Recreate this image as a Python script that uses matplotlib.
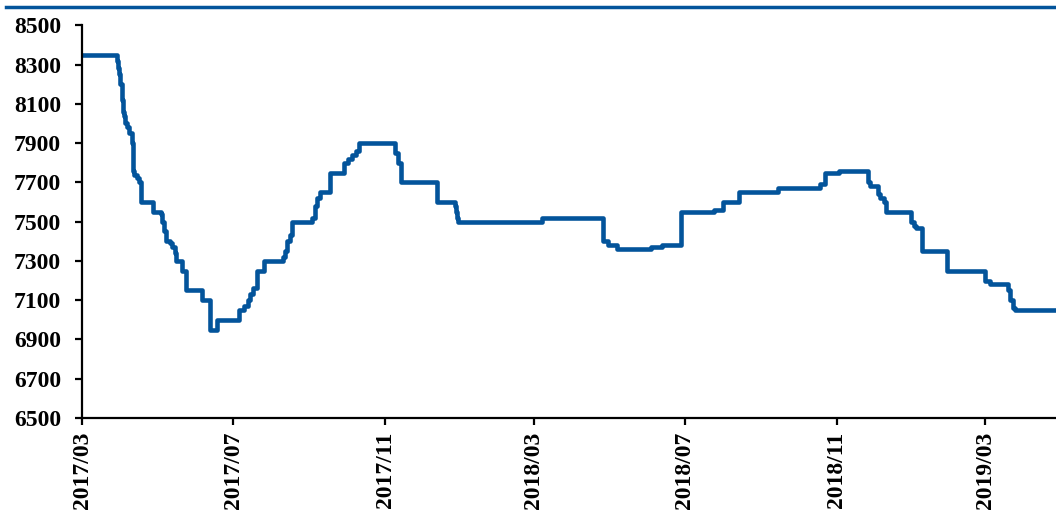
import pandas as pd
import matplotlib.pyplot as plt
import matplotlib.dates as mdates
from matplotlib.lines import Line2D

# change points of the price series (value holds until the next date)
dates = ['2017-03-01', '2017-03-29', '2017-03-30', '2017-03-31', '2017-04-01',
         '2017-04-02', '2017-04-03', '2017-04-04', '2017-04-05', '2017-04-06',
         '2017-04-08', '2017-04-10', '2017-04-11', '2017-04-12', '2017-04-14',
         '2017-04-16', '2017-04-18', '2017-04-27', '2017-05-04', '2017-05-05',
         '2017-05-06', '2017-05-08', '2017-05-11', '2017-05-13', '2017-05-15',
         '2017-05-16', '2017-05-21', '2017-05-24', '2017-06-06', '2017-06-12',
         '2017-06-18', '2017-07-06', '2017-07-10', '2017-07-13', '2017-07-15',
         '2017-07-17', '2017-07-20', '2017-07-26', '2017-08-10', '2017-08-12',
         '2017-08-14', '2017-08-16', '2017-08-18', '2017-09-03', '2017-09-05',
         '2017-09-07', '2017-09-09', '2017-09-17', '2017-09-29', '2017-10-02',
         '2017-10-05', '2017-10-08', '2017-10-11', '2017-11-09', '2017-11-11',
         '2017-11-14', '2017-12-13', '2017-12-27', '2017-12-28', '2017-12-29',
         '2017-12-30', '2018-03-08',
         '2018-04-26', '2018-04-30', '2018-05-07', '2018-06-04', '2018-06-13',
         '2018-06-28', '2018-07-25', '2018-08-01', '2018-08-14', '2018-09-14',
         '2018-10-18', '2018-10-22', '2018-11-03', '2018-11-26', '2018-11-28',
         '2018-12-04', '2018-12-06', '2018-12-09', '2018-12-11', '2018-12-31',
         '2019-01-02', '2019-01-04', '2019-01-09', '2019-01-29', '2019-03-01',
         '2019-03-05', '2019-03-19', '2019-03-21', '2019-03-23', '2019-03-25',
         '2019-04-27']
values = [8350, 8320, 8280, 8250, 8200,
          8120, 8060, 8040, 8000, 7980,
          7950, 7900, 7760, 7740, 7720,
          7700, 7600, 7550, 7540, 7500,
          7450, 7400, 7390, 7370, 7340,
          7300, 7250, 7150, 7100, 6950,
          7000, 7050, 7070, 7100, 7130,
          7160, 7250, 7300, 7320, 7350,
          7400, 7430, 7500, 7520, 7580,
          7620, 7650, 7750, 7800, 7820,
          7840, 7860, 7900, 7850, 7800,
          7700, 7600, 7580, 7550, 7520,
          7500, 7520,
          7400, 7380, 7360, 7370, 7380,
          7550, 7560, 7600, 7650, 7670,
          7690, 7750, 7760, 7700, 7680,
          7640, 7620, 7600, 7550, 7500,
          7480, 7470, 7350, 7250, 7200,
          7180, 7150, 7100, 7060, 7050,
          7050]

tick_dates = ['2017-03-01', '2017-07-01', '2017-11-01', '2018-03-01',
              '2018-07-01', '2018-11-01', '2019-03-01']
y_ticks = list(range(6500, 8501, 200))

blue = '#03549b'
plt.rcParams['font.family'] = ['Liberation Serif', 'DejaVu Serif']
plt.rcParams['font.weight'] = 'bold'

x = pd.to_datetime(dates)
fig = plt.figure(figsize=(10.56, 5.12), dpi=100)
ax = fig.add_axes([0.0777, 0.1836, 0.9223, 0.767])
ax.step(x, values, where='post', color=blue, linewidth=3.3,
        solid_joinstyle='round', solid_capstyle='round')

ax.set_xlim(x[0], x[-1])
ax.set_ylim(6500, 8500)
ax.set_yticks(y_ticks)
ax.set_xticks(pd.to_datetime(tick_dates))
ax.xaxis.set_major_formatter(mdates.DateFormatter('%Y/%m'))
plt.setp(ax.get_xticklabels(), rotation=90)

for s in ['top', 'right']:
    ax.spines[s].set_visible(False)
for s in ['left', 'bottom']:
    ax.spines[s].set_linewidth(1.6)
ax.tick_params(axis='both', direction='out', length=5, width=1.6,
               labelsize=17)
ax.tick_params(axis='y', pad=10)
ax.tick_params(axis='x', pad=5)

# blue rule across the top of the figure
fig.add_artist(Line2D([0.006, 1.0], [0.987, 0.987], color=blue, linewidth=2.5,
                      transform=fig.transFigure))

fig.savefig('out.png', dpi=100)
